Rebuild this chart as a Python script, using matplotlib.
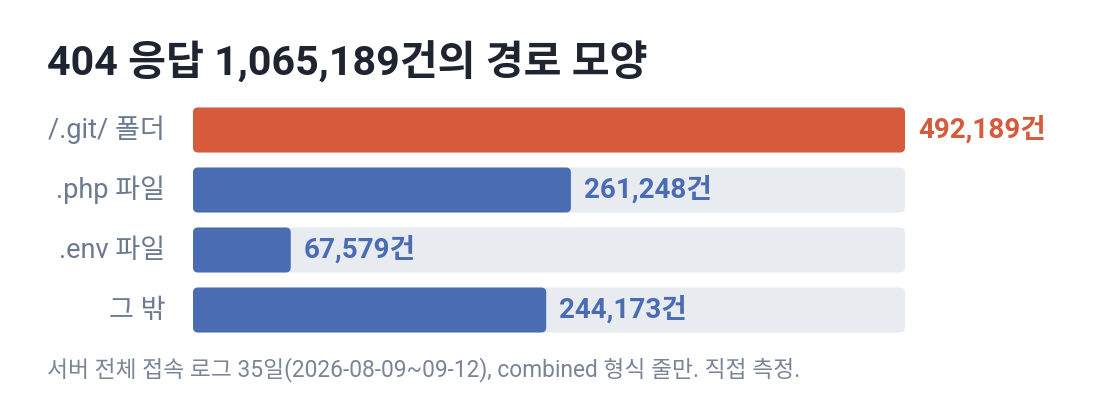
import matplotlib
matplotlib.use("Agg")
import matplotlib.pyplot as plt
from matplotlib.patches import FancyBboxPatch
from matplotlib.transforms import offset_copy

plt.rcParams['font.family'] = ['Roboto', 'Noto Sans CJK KR', 'DejaVu Sans']

# data
categories = ['/.git/ 폴더', '.php 파일', '.env 파일', '그 밖']
counts = [492189, 261248, 67579, 244173]
highlight = [True, False, False, False]

title = '404 응답 1,065,189건의 경로 모양'
footnote = '서버 전체 접속 로그 35일(2026-08-09~09-12), combined 형식 줄만. 직접 측정.'

RED = '#d65a3c'
BLUE = '#4a6cb3'
TRACK = '#e8ebf0'
LABEL = '#6b7a90'
TITLE = '#1e2430'
NOTE = '#7b8597'

W, H = 1100, 412
fig = plt.figure(figsize=(W / 100, H / 100), dpi=100)
fig.patch.set_facecolor('white')

# axes box in pixels: x 193..905, rows 100..340 (60px per row)
ax = fig.add_axes([193 / W, (H - 340) / H, 712 / W, 240 / H])
vmax = max(counts)
ax.set_xlim(0, vmax)
ax.set_ylim(len(categories) - 0.5, -0.5)
ax.axis('off')

bar_h = 0.75
# px -> data units, for rounded corners
px_x = vmax / 712
px_y = 1 / 60
radius = 5

def rounded(x0, y0, w, h, color):
    p = FancyBboxPatch((x0, y0), w, h,
                       boxstyle=f"round,pad=0,rounding_size={radius * px_x}",
                       mutation_aspect=px_y / px_x,
                       facecolor=color, edgecolor='none')
    ax.add_patch(p)

for i, (cat, v, hl) in enumerate(zip(categories, counts, highlight)):
    y0 = i - bar_h / 2
    rounded(0, y0, vmax, bar_h, TRACK)
    rounded(0, y0, v, bar_h, RED if hl else BLUE)
    ax.text(v, i, f'{v:,}건', ha='left', va='center', fontsize=20,
            fontweight='bold', color=RED if hl else BLUE,
            transform=offset_copy(ax.transData, fig=fig, x=9.5, y=0, units='points'))
    ax.text(0, i, cat, ha='right', va='center', fontsize=19.5, color=LABEL,
            transform=offset_copy(ax.transData, fig=fig, x=-20, y=0, units='points'))

fig.text(47 / W, 1 - 63 / H, title, ha='left', va='center', fontsize=29.7,
         fontweight='bold', color=TITLE)
fig.text(47 / W, 1 - 370 / H, footnote, ha='left', va='center', fontsize=16.4,
         color=NOTE)

fig.savefig('out.png', dpi=100, facecolor='white')
